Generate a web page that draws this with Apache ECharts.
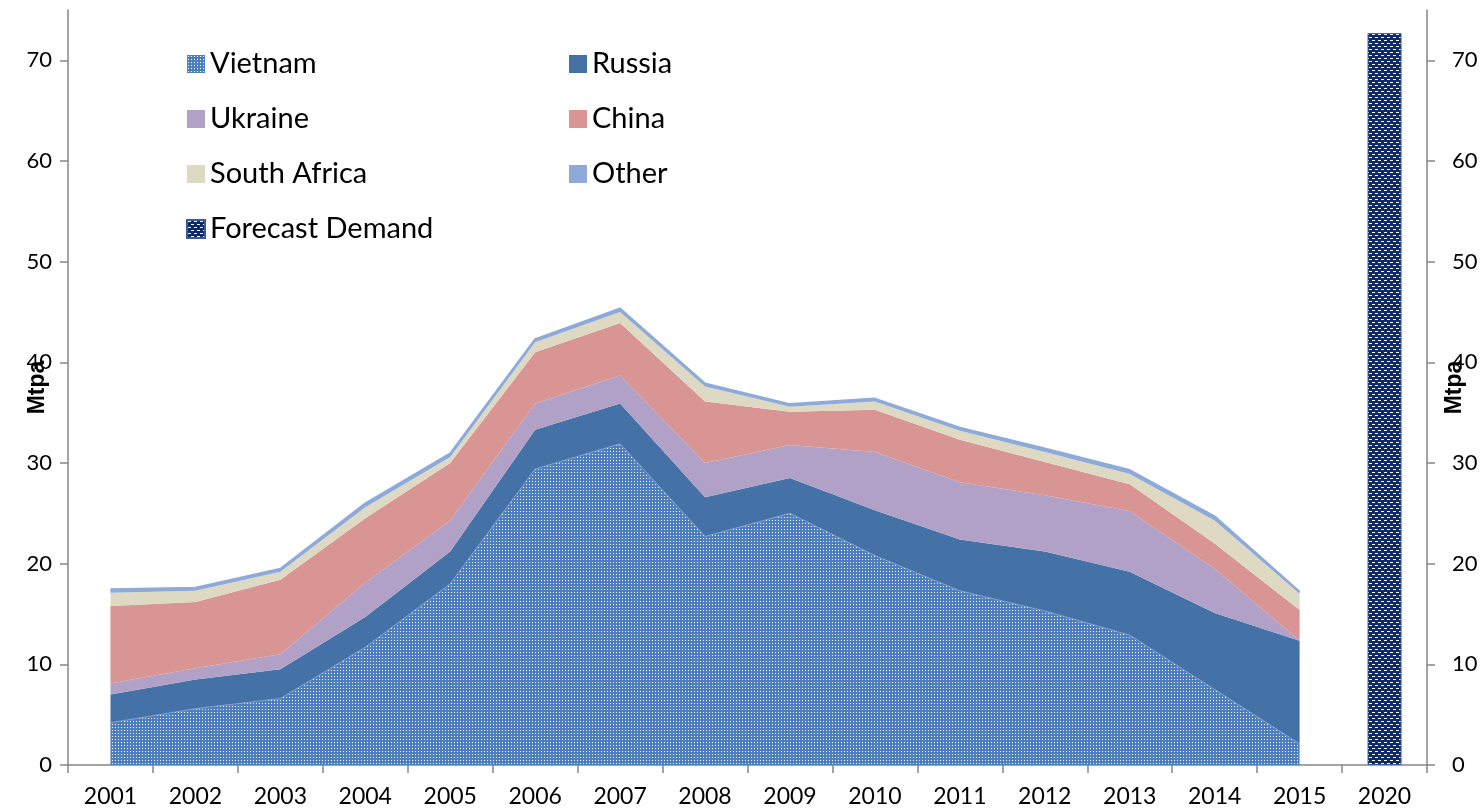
<!DOCTYPE html>
<html>
<head>
<meta charset="utf-8">
<title>Supply by origin and forecast demand</title>
<script src="https://cdn.jsdelivr.net/npm/echarts@6/dist/echarts.min.js"></script>
<style>
  html, body { margin: 0; padding: 0; background: #fff; }
  #chart { width: 1483px; height: 809px; }
</style>
</head>
<body>
<div id="chart"></div>
<script>
// categories (x axis)
const years = ["2001", "2002", "2003", "2004", "2005", "2006", "2007", "2008",
  "2009", "2010", "2011", "2012", "2013", "2014", "2015", "2020"];

// stacked supply, Mtpa (no value for 2020)
const vietnam = [4.2, 5.6, 6.6, 11.7, 18.0, 29.4, 31.9, 22.7, 25.0, 20.8, 17.3, 15.3, 12.9, 7.5, 2.1, "-"];
const russia = [2.8, 2.9, 2.9, 3.0, 3.2, 3.9, 4.0, 3.9, 3.5, 4.5, 5.1, 5.9, 6.3, 7.6, 10.25, "-"];
const ukraine = [1.1, 1.1, 1.5, 3.4, 3.1, 2.6, 2.8, 3.4, 3.3, 5.8, 5.7, 5.6, 6.0, 4.4, 0, "-"];
const china = [7.7, 6.6, 7.4, 6.4, 5.7, 5.1, 5.2, 6.1, 3.3, 4.2, 4.2, 3.3, 2.7, 2.5, 3.05, "-"];
const southAfrica = [1.3, 1.1, 0.8, 1.1, 0.6, 1.0, 1.1, 1.5, 0.5, 0.8, 0.9, 1.0, 1.0, 2.3, 1.6, "-"];
const other = [0.35, 0.3, 0.3, 0.4, 0.35, 0.3, 0.35, 0.3, 0.25, 0.3, 0.3, 0.35, 0.4, 0.4, 0.2, "-"];

// forecast demand, only for 2020
const forecast = ["-", "-", "-", "-", "-", "-", "-", "-", "-", "-", "-", "-", "-", "-", "-", 72.7];

// y axis ticks
const yTicks = [0, 10, 20, 30, 40, 50, 60, 70];

// dotted fill for Vietnam
const makeDots = () => {
  const c = document.createElement("canvas");
  c.width = 3;
  c.height = 3;
  const ctx = c.getContext("2d");
  ctx.fillStyle = "#4d7ec0";
  ctx.fillRect(0, 0, 3, 3);
  ctx.fillStyle = "#ffffff";
  ctx.fillRect(1, 1, 1, 1);
  return c;
};

// brick dashes for forecast bar
const makeBricks = () => {
  const c = document.createElement("canvas");
  c.width = 6;
  c.height = 6;
  const ctx = c.getContext("2d");
  ctx.fillStyle = "#0f2a6a";
  ctx.fillRect(0, 0, 6, 6);
  ctx.fillStyle = "#ffffff";
  ctx.fillRect(1, 1, 3, 1);
  ctx.fillRect(4, 4, 2, 1);
  ctx.fillRect(0, 4, 1, 1);
  return c;
};

const font = "Lato";
const axisColor = "#868686";

const areaSeries = (name, data, color, line) => ({
  name: name,
  type: "line",
  stack: "supply",
  data: data,
  symbol: "none",
  itemStyle: { color: color },
  lineStyle: line || { width: 0 },
  areaStyle: { color: color, opacity: 1 },
  z: 2,
});

const chart = echarts.init(document.getElementById("chart"));

const valueAxis = (pos, margin, gap) => ({
  type: "value",
  position: pos,
  min: 0,
  max: 75,
  interval: 10,
  name: "Mtpa",
  nameLocation: "middle",
  nameRotate: 90,
  nameGap: gap,
  nameMoveOverlap: false,
  nameTextStyle: {
    fontFamily: "Liberation Sans",
    fontWeight: "bold",
    fontSize: 23,
    color: "#000",
  },
  axisLine: { show: true, lineStyle: { color: axisColor, width: 1.5 } },
  axisTick: { show: true, length: 8, lineStyle: { color: axisColor, width: 1.5 } },
  axisLabel: {
    fontFamily: font,
    fontSize: 22,
    color: "#000",
    margin: margin,
    showMaxLabel: false,
    formatter: (v) => (yTicks.indexOf(v) >= 0 ? String(v) : ""),
  },
  splitLine: { show: false },
});

const legendText = { fontFamily: font, fontSize: 29, color: "#000", lineHeight: 30 };

chart.setOption({
  animation: false,
  backgroundColor: "#fff",
  grid: { left: 68, right: 56, top: 10, bottom: 44, containLabel: false, outerBoundsMode: "none" },
  legend: [
    {
      orient: "vertical",
      left: 181,
      top: 44,
      itemGap: 25,
      itemWidth: 18,
      itemHeight: 18,
      icon: "rect",
      textStyle: legendText,
      data: ["Vietnam", "Ukraine", "South Africa", "Forecast Demand"],
    },
    {
      orient: "vertical",
      left: 564,
      top: 44,
      itemGap: 25,
      itemWidth: 18,
      itemHeight: 18,
      icon: "rect",
      textStyle: legendText,
      data: ["Russia", "China", "Other"],
    },
  ],
  xAxis: {
    type: "category",
    data: years,
    boundaryGap: true,
    axisLine: { lineStyle: { color: axisColor, width: 1.5 } },
    axisTick: { show: true, length: 8, lineStyle: { color: axisColor, width: 1.5 } },
    axisLabel: { fontFamily: font, fontSize: 23, color: "#000", margin: 20 },
  },
  yAxis: [valueAxis("left", 16, 19), valueAxis("right", 25, 16)],
  series: [
    areaSeries("Vietnam", vietnam, { image: makeDots(), repeat: "repeat" },
      { width: 1, color: "#7f9fd3" }),
    areaSeries("Russia", russia, "#4472a6"),
    areaSeries("Ukraine", ukraine, "#b1a1c7"),
    areaSeries("China", china, "#d99594"),
    areaSeries("South Africa", southAfrica, "#ddd9c3"),
    areaSeries("Other", other, "#8eaad8", { width: 2, color: "#8eaad8" }),
    {
      name: "Forecast Demand",
      type: "bar",
      data: forecast,
      barWidth: 34,
      itemStyle: {
        color: { image: makeBricks(), repeat: "repeat" },
        borderColor: "#3a5a9a",
        borderWidth: 1,
      },
      z: 3,
    },
  ],
});
</script>
</body>
</html>
